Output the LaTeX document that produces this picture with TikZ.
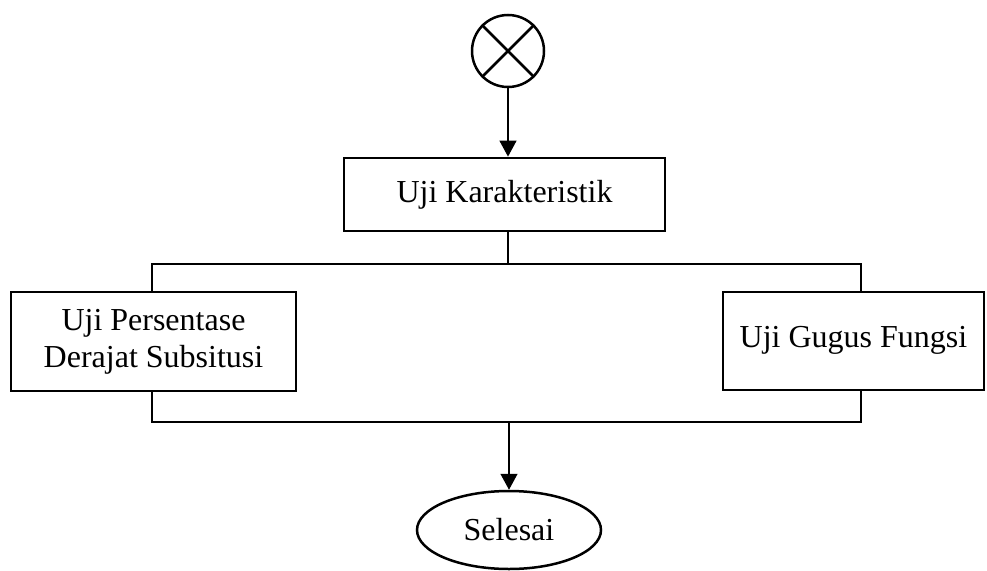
\documentclass[tikz,border=0pt]{standalone}
\usepackage{fontspec}
\setmainfont{Liberation Serif}
\usetikzlibrary{shapes.geometric,arrows.meta}
\begin{document}
\begin{tikzpicture}[x=1pt,y=1pt,
  every node/.style={font=\fontsize{32}{37}\selectfont, inner sep=0pt},
  procbox/.style={draw, line width=2.8pt, rectangle, align=center},
  conn/.style={line width=1.4pt},
  arr/.style={conn, -{Triangle[width=17pt,length=16pt]}},
  startc/.style={draw, circle, line width=2.5pt, minimum size=72pt},
  endell/.style={draw, ellipse, line width=2.5pt, minimum width=184pt, minimum height=78pt}]
\useasboundingbox (0,0) rectangle (987,-570);
\node[startc] (s) at (508,-51) {};
\draw[line width=2.5pt] (s.north west) -- (s.south east) (s.north east) -- (s.south west);
\node[procbox, minimum width=321pt, minimum height=73pt] (k) at (504.5,-194.5) {\raisebox{2pt}{Uji Karakteristik}};
\node[procbox, minimum width=285pt, minimum height=99pt] (p) at (153.5,-341.5) {Uji Persentase\\Derajat Subsitusi};
\node[procbox, minimum width=261pt, minimum height=98pt] (g) at (853.5,-341) {\raisebox{9pt}{Uji Gugus Fungsi}};
\node[endell] (e) at (509,-530) {\raisebox{-4pt}{Selesai}};
\coordinate (tl) at (152,-264);
\coordinate (tr) at (861,-264);
\coordinate (bl) at (152,-422);
\coordinate (br) at (861,-422);
\draw[arr] (s.south) -- (s.south |- k.north);
\draw[conn] (s.south |- k.south) -- (s.south |- tl);
\draw[conn] (tl |- p.north) -- (tl) -- (tr) -- (tr |- g.north);
\draw[conn] (bl |- p.south) -- (bl) -- (br) -- (br |- g.south);
\draw[arr] (e.north |- bl) -- (e.north);
\end{tikzpicture}
\end{document}
